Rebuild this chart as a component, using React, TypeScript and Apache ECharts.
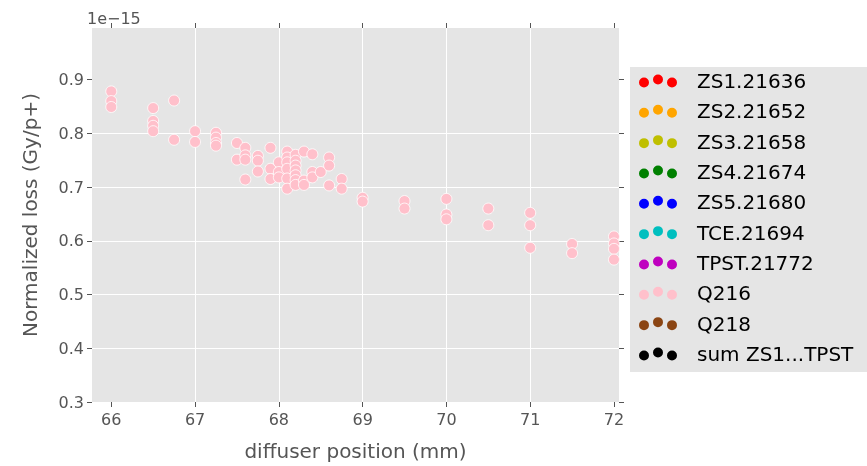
import React, { useEffect, useRef } from "react";
import * as echarts from "echarts";

const seriesNames = [
  "ZS1.21636",
  "ZS2.21652",
  "ZS3.21658",
  "ZS4.21674",
  "ZS5.21680",
  "TCE.21694",
  "TPST.21772",
  "Q216",
  "Q218",
  "sum ZS1...TPST",
];
const seriesColors = [
  "#FF0000",
  "#FFA500",
  "#BFBF00",
  "#008000",
  "#0000FF",
  "#00BFBF",
  "#BF00BF",
  "#FFC0CB",
  "#8B4513",
  "#000000",
];

// Q216 points (values in units of 1e-15 Gy/p+)
const q216X = [
  66, 66, 66,
  66.5, 66.5, 66.5, 66.5,
  66.75, 66.75,
  67, 67,
  67.25, 67.25, 67.25, 67.25,
  67.5, 67.5,
  67.6, 67.6, 67.6, 67.6,
  67.75, 67.75, 67.75,
  67.9, 67.9, 67.9,
  68, 68, 68,
  68.1, 68.1, 68.1, 68.1, 68.1, 68.1,
  68.2, 68.2, 68.2, 68.2, 68.2, 68.2, 68.2,
  68.3, 68.3, 68.3,
  68.4, 68.4, 68.4,
  68.5,
  68.6, 68.6, 68.6,
  68.75, 68.75,
  69, 69,
  69.5, 69.5,
  70, 70, 70,
  70.5, 70.5,
  71, 71, 71,
  71.5, 71.5,
  72, 72, 72, 72,
];
const q216Y = [
  0.878, 0.86, 0.849,
  0.847, 0.823, 0.814, 0.804,
  0.861, 0.788,
  0.804, 0.784,
  0.801, 0.792, 0.782, 0.777,
  0.782, 0.751,
  0.773, 0.759, 0.751, 0.714,
  0.758, 0.749, 0.729,
  0.773, 0.734, 0.715,
  0.746, 0.728, 0.718,
  0.766, 0.755, 0.746, 0.734, 0.716, 0.697,
  0.76, 0.749, 0.74, 0.731, 0.722, 0.713, 0.704,
  0.766, 0.712, 0.704,
  0.761, 0.728, 0.718,
  0.728,
  0.755, 0.74, 0.703,
  0.715, 0.697,
  0.68, 0.673,
  0.674, 0.66,
  0.678, 0.649, 0.64,
  0.66, 0.629,
  0.652, 0.629, 0.587,
  0.594, 0.577,
  0.608, 0.595, 0.585, 0.565,
];

const xTicks = [66, 67, 68, 69, 70, 71, 72];
const yTicks = [0.3, 0.4, 0.5, 0.6, 0.7, 0.8, 0.9];
const offsetText = "1e\u221215";
const xLabel = "diffuser position (mm)";
const yLabel = "Normalized loss (Gy/p+)";

const FONT = "DejaVu Sans";
const GREY = "#555555";

const threeDots =
  "path://M0,8a5,5 0 1,0 10,0a5,5 0 1,0 -10,0Z" +
  "M14,5a5,5 0 1,0 10,0a5,5 0 1,0 -10,0Z" +
  "M28,8a5,5 0 1,0 10,0a5,5 0 1,0 -10,0Z";

export default function App() {
  const ref = useRef<HTMLDivElement>(null);

  useEffect(() => {
    if (!ref.current) return;
    const chart = echarts.init(ref.current, undefined, { renderer: "svg" });

    const xFmt = (v: number) =>
      Math.abs(v - Math.round(v)) < 1e-6 ? String(Math.round(v)) : "";
    const yFmt = (v: number) =>
      Math.abs(v * 10 - Math.round(v * 10)) < 1e-6 ? v.toFixed(1) : "";

    const tickStyle = { lineStyle: { color: GREY, width: 1 }, length: 5, inside: false };

    const series = seriesNames.map((name, i) => ({
      type: "scatter",
      name,
      xAxisIndex: 0,
      yAxisIndex: 0,
      symbol: "circle",
      symbolSize: 11,
      data: name === "Q216" ? q216X.map((x, j) => [x, q216Y[j]]) : [],
      itemStyle: {
        color: seriesColors[i],
        borderColor: "#ffffff",
        borderWidth: 0.8,
        opacity: 1,
      },
    }));

    chart.setOption({
      animation: false,
      textStyle: { fontFamily: FONT },
      grid: {
        left: 92,
        top: 28,
        width: 527,
        height: 380.7,
        show: true,
        backgroundColor: "#E5E5E5",
        borderWidth: 0,
        containLabel: false,
      },
      xAxis: [
        {
          type: "value",
          position: "bottom",
          min: 65.77,
          max: 72.06,
          axisLine: { show: false },
          axisTick: { show: true, ...tickStyle, customValues: xTicks },
          axisLabel: {
            color: GREY,
            fontSize: 16,
            fontFamily: FONT,
            margin: 9,
            formatter: xFmt,
            customValues: xTicks,
          },
          splitLine: {
            show: true,
            showMinLine: false,
            showMaxLine: false,
            lineStyle: { color: "#ffffff", width: 1 },
          },
          name: xLabel,
          nameLocation: "middle",
          nameGap: 39,
          nameTextStyle: { color: GREY, fontSize: 20, fontFamily: FONT },
        },
        {
          type: "value",
          position: "top",
          min: 65.77,
          max: 72.06,
          axisLine: { show: false },
          axisTick: { show: true, ...tickStyle, customValues: xTicks },
          axisLabel: { show: false },
          splitLine: { show: false },
        },
      ],
      yAxis: [
        {
          type: "value",
          position: "left",
          min: 0.3,
          max: 0.996,
          axisLine: { show: false },
          axisTick: { show: true, ...tickStyle, customValues: yTicks },
          axisLabel: {
            color: GREY,
            fontSize: 16,
            fontFamily: FONT,
            margin: 8,
            formatter: yFmt,
            customValues: yTicks,
          },
          splitLine: {
            show: true,
            showMinLine: false,
            showMaxLine: false,
            lineStyle: { color: "#ffffff", width: 1 },
          },
          name: yLabel,
          nameLocation: "middle",
          nameRotate: 90,
          nameGap: 52,
          nameTextStyle: { color: GREY, fontSize: 20, fontFamily: FONT },
        },
        {
          type: "value",
          position: "right",
          min: 0.3,
          max: 0.996,
          axisLine: { show: false },
          axisTick: { show: true, ...tickStyle, customValues: yTicks },
          axisLabel: { show: false },
          splitLine: { show: false },
        },
      ],
      legend: {
        show: true,
        orient: "vertical",
        left: 630,
        top: 67,
        data: seriesNames,
        icon: threeDots,
        itemWidth: 38,
        itemHeight: 13,
        itemGap: 10.33,
        backgroundColor: "#E5E5E5",
        borderWidth: 0,
        padding: [4, 24, 8, 9],
        selectedMode: false,
        itemStyle: { borderWidth: 0 },
        textStyle: {
          color: "#000000",
          fontSize: 20,
          lineHeight: 20,
          fontFamily: FONT,
          padding: [0, 0, 0, 15],
        },
      },
      graphic: [
        {
          type: "text",
          left: 87,
          top: 10,
          style: {
            text: offsetText,
            fill: GREY,
            fontSize: 16,
            fontFamily: FONT,
          },
        },
      ],
      series,
    });

    return () => {
      chart.dispose();
    };
  }, []);

  return (
    <div
      ref={ref}
      style={{ position: "fixed", left: 0, top: 0, width: 867, height: 466 }}
    />
  );
}
